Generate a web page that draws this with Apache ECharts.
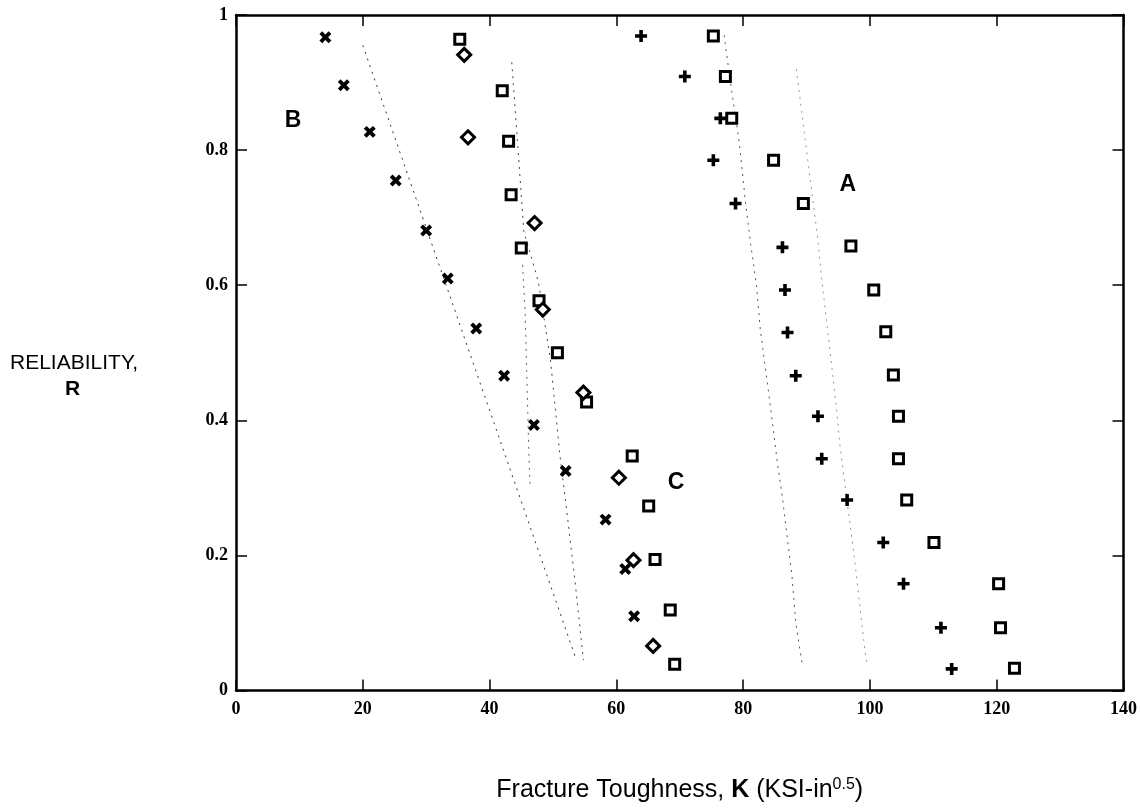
<!DOCTYPE html>
<html>
<head>
<meta charset="utf-8">
<script src="https://cdn.jsdelivr.net/npm/echarts@6/dist/echarts.min.js"></script>
<style>
html,body{margin:0;padding:0;background:#fff;}
#chart{width:1140px;height:808px;}
</style>
</head>
<body>
<div id="chart"></div>
<script>
// ---- data (K in KSI-in^0.5, R reliability) ----
const xTicks = [0, 20, 40, 60, 80, 100, 120, 140];
const yTicks = [0, 0.2, 0.4, 0.6, 0.8, 1];

const crossB = [[14.1,0.967],[17.0,0.896],[21.1,0.827],[25.2,0.755],[30.0,0.681],[33.4,0.610],[37.9,0.536],[42.3,0.466],[47.0,0.393],[52.0,0.325],[58.3,0.253],[61.4,0.180],[62.8,0.110],[69.2,0.039]];
const squareC = [[35.3,0.964],[42.0,0.888],[43.0,0.813],[43.4,0.734],[45.0,0.655],[47.8,0.577],[50.7,0.500],[55.3,0.427],[62.5,0.347],[65.1,0.273],[66.1,0.194],[68.5,0.119],[69.2,0.039]];
const diamondC = [[36.0,0.941],[36.6,0.819],[47.1,0.692],[48.4,0.564],[54.8,0.441],[60.4,0.315],[62.7,0.193],[65.8,0.066]];
const plusA = [[63.9,0.969],[70.8,0.909],[76.4,0.847],[75.3,0.785],[78.8,0.721],[86.2,0.656],[86.6,0.593],[87.0,0.530],[88.3,0.466],[91.8,0.406],[92.4,0.343],[96.4,0.282],[102.1,0.219],[105.3,0.158],[111.2,0.093],[112.9,0.032]];
const squareA = [[75.3,0.969],[77.2,0.909],[78.2,0.847],[84.8,0.785],[89.5,0.721],[97.0,0.658],[100.6,0.593],[102.5,0.531],[103.7,0.467],[104.5,0.406],[104.5,0.343],[105.8,0.282],[110.1,0.219],[120.3,0.158],[120.6,0.093],[122.8,0.033]];

// faint fitted curves
const fitB = [[20.0,0.955],[53.7,0.045]];
const fitC = [[43.5,0.93],[44.5,0.80],[45.4,0.68],[47.7,0.605],[49.6,0.49],[51.1,0.348],[52.0,0.28],[53.5,0.16],[54.8,0.045]];
const fitC2 = [[45.2,0.63],[45.6,0.564],[46.2,0.35],[46.4,0.30]];
const fitA1 = [[77.0,0.97],[78.0,0.90],[79.4,0.81],[80.4,0.72],[81.2,0.66],[82.1,0.60],[82.7,0.535],[84.1,0.435],[85.4,0.338],[86.2,0.285],[87.7,0.17],[88.3,0.10],[89.3,0.04]];
const fitA2 = [[88.4,0.92],[89.3,0.852],[90.9,0.733],[91.8,0.666],[92.3,0.617],[94.3,0.454],[94.8,0.41],[95.3,0.36],[97.5,0.20],[99.2,0.06],[99.5,0.04]];

// group letters placed in data space
const groupLabels = [['A',96.5,0.749],['B',9.0,0.844],['C',69.4,0.307]];

const PLUS = 'path://M4,0H7.4V4H11.4V7.4H7.4V11.4H4V7.4H0V4H4Z';

const chart = echarts.init(document.getElementById('chart'), null, {renderer:'canvas'});

const tickFont = {fontFamily:'Liberation Serif', fontWeight:'bold', fontSize:18, color:'#000'};

function fit(data, color) {
  return {type:'line', data:data, showSymbol:false, symbol:'none', silent:true,
    lineStyle:{color:color, width:1, type:[2,5]}, z:1};
}
const hollow = {color:'#fff', borderColor:'#000', borderWidth:3, opacity:1};
const solid = {color:'#000', opacity:1};

chart.setOption({
  animation:false,
  backgroundColor:'#fff',
  grid:{left:236, right:12, top:15, bottom:111, containLabel:false},
  xAxis:[{
    type:'value', min:xTicks[0], max:xTicks[xTicks.length-1], interval:20,
    axisLine:{show:true, onZero:false, lineStyle:{color:'#000', width:2.5}},
    axisTick:{show:true, inside:true, length:11, lineStyle:{color:'#000', width:1.5}},
    axisLabel:Object.assign({margin:10}, tickFont),
    splitLine:{show:false},
    name:'{n|Fracture Toughness, }{b|K}{n| (KSI-in}{s|0.5}{n|)}',
    nameLocation:'middle', nameGap:86,
    nameTextStyle:{rich:{
      n:{fontFamily:'Liberation Sans', fontSize:25, color:'#000'},
      b:{fontFamily:'Liberation Sans', fontSize:25, fontWeight:'bold', color:'#000'},
      s:{fontFamily:'Liberation Sans', fontSize:16, color:'#000', verticalAlign:'bottom', padding:[0,0,12,0]}
    }}
  },{
    type:'value', position:'top', min:xTicks[0], max:xTicks[xTicks.length-1], interval:20,
    axisLine:{show:true, onZero:false, lineStyle:{color:'#000', width:2.5}},
    axisTick:{show:true, inside:true, length:11, lineStyle:{color:'#000', width:1.5}},
    axisLabel:{show:false}, splitLine:{show:false}
  }],
  yAxis:[{
    type:'value', min:yTicks[0], max:yTicks[yTicks.length-1], interval:0.2,
    axisLine:{show:true, onZero:false, lineStyle:{color:'#000', width:2.5}},
    axisTick:{show:true, inside:true, length:11, lineStyle:{color:'#000', width:1.5}},
    axisLabel:Object.assign({margin:8}, tickFont),
    splitLine:{show:false}
  },{
    type:'value', position:'right', min:yTicks[0], max:yTicks[yTicks.length-1], interval:0.2,
    axisLine:{show:true, onZero:false, lineStyle:{color:'#000', width:2.5}},
    axisTick:{show:true, inside:true, length:11, lineStyle:{color:'#000', width:1.5}},
    axisLabel:{show:false}, splitLine:{show:false}
  }],
  graphic:[
    {type:'text', left:10, top:353, style:{text:'RELIABILITY,', font:'21px "Liberation Sans"', fill:'#000'}},
    {type:'text', left:65, top:379, style:{text:'R', font:'bold 21px "Liberation Sans"', fill:'#000'}}
  ],
  series:[
    fit(fitB, '#333'),
    fit(fitC, '#444'),
    fit(fitC2, '#666'),
    fit(fitA1, '#555'),
    fit(fitA2, '#999'),
    {type:'scatter', data:crossB, symbol:PLUS, symbolRotate:45, symbolSize:13, itemStyle:solid, z:3},
    {type:'scatter', data:squareC, symbol:'rect', symbolSize:10, itemStyle:hollow, z:3},
    {type:'scatter', data:diamondC, symbol:'diamond', symbolSize:13, itemStyle:hollow, z:3},
    {type:'scatter', data:plusA, symbol:PLUS, symbolSize:12, itemStyle:solid, z:3},
    {type:'scatter', data:squareA, symbol:'rect', symbolSize:10, itemStyle:hollow, z:3},
    {type:'scatter', data:groupLabels.map(g => ({value:[g[1], g[2]], name:g[0]})),
      symbol:'circle', symbolSize:2, silent:true,
      itemStyle:{color:'rgba(0,0,0,0)', opacity:1},
      label:{show:true, position:'inside', formatter:p => p.name, opacity:1,
        fontFamily:'Liberation Sans', fontWeight:'bold', fontSize:23, color:'#000'}, z:4}
  ]
});
</script>
</body>
</html>
